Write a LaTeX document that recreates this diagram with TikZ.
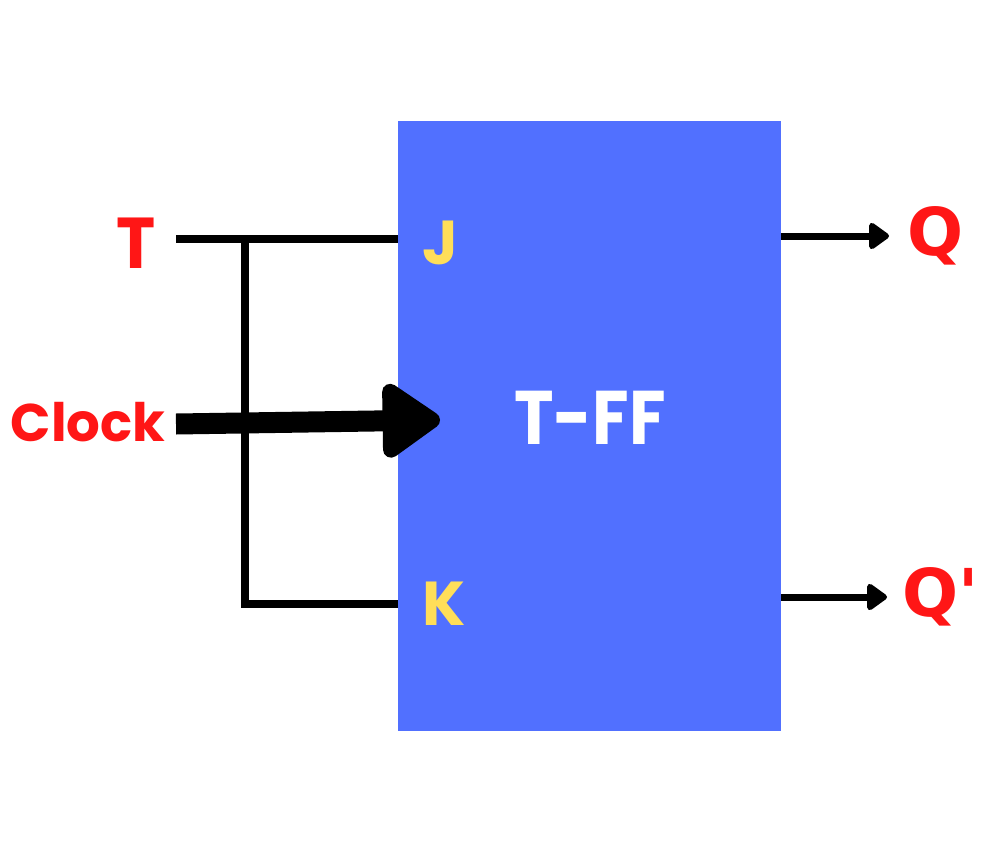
\documentclass[tikz,border=0pt]{standalone}
\usepackage{fontspec}
\usetikzlibrary{arrows.meta}
\newfontfamily\popfont{Poppins}
\newfontfamily\djfont{DejaVu Sans}
\definecolor{ffblue}{HTML}{5170FF}
\definecolor{ffred}{HTML}{FF1616}
\definecolor{ffyellow}{HTML}{FFDE59}
\begin{document}
\begin{tikzpicture}[x=1pt,y=-1pt,
  wire/.style={line width=8pt,black},
  outarrow/.style={line width=7pt,black,-{Triangle[length=22pt,width=30pt,round]}},
  redlbl/.style={text=ffred,font=\popfont\bfseries,inner sep=0pt,anchor=center},
  pinlbl/.style={text=ffyellow,font=\popfont\bfseries\fontsize{62}{62}\selectfont,inner sep=0pt}
]
\useasboundingbox[fill=white] (0,0) rectangle (1006,862);
\node[fill=ffblue,minimum width=383pt,minimum height=610pt,inner sep=0pt,anchor=north west] (box) at (398,121) {};
\node[text=white,font=\popfont\bfseries\fontsize{76}{76}\selectfont,inner sep=0pt,xscale=0.88] (tff) at (590,418) {T-FF};
\node[pinlbl] (J) at (440,243) {J};
\node[pinlbl] (K) at (444,604) {K};
\node[redlbl,font=\popfont\bfseries\fontsize{72}{72}\selectfont,xscale=0.92] (T) at (136,243) {T};
\node[redlbl,font=\popfont\bfseries\fontsize{53}{53}\selectfont] (clk) at (88,422) {Clock};
\node[redlbl,font=\djfont\bfseries\fontsize{66}{66}\selectfont] (Q) at (936,236) {Q};
\node[redlbl,font=\djfont\bfseries\fontsize{66}{66}\selectfont] (Qn) at (941,597) {Q'};
\coordinate (tstart) at (176,239);
\coordinate (jin) at (398,239);
\coordinate (tap) at (245,239);
\coordinate (kcorner) at (245,604);
\coordinate (kin) at (398,604);
\coordinate (cstart) at (176,424);
\coordinate (ctip) at (440,420);
\coordinate (qout) at (781,236);
\coordinate (qtip) at (889,236);
\coordinate (qnout) at (781,597);
\coordinate (qntip) at (887,597);
\draw[wire] (tstart) -- (jin);
\draw[wire] (tap) -- (kcorner) -- (kin);
\draw[line width=21pt,-{Triangle[length=64pt,width=84pt,round]}] (cstart) -- (ctip);
\draw[outarrow] (qout) -- (qtip);
\draw[outarrow] (qnout) -- (qntip);
\end{tikzpicture}
\end{document}
